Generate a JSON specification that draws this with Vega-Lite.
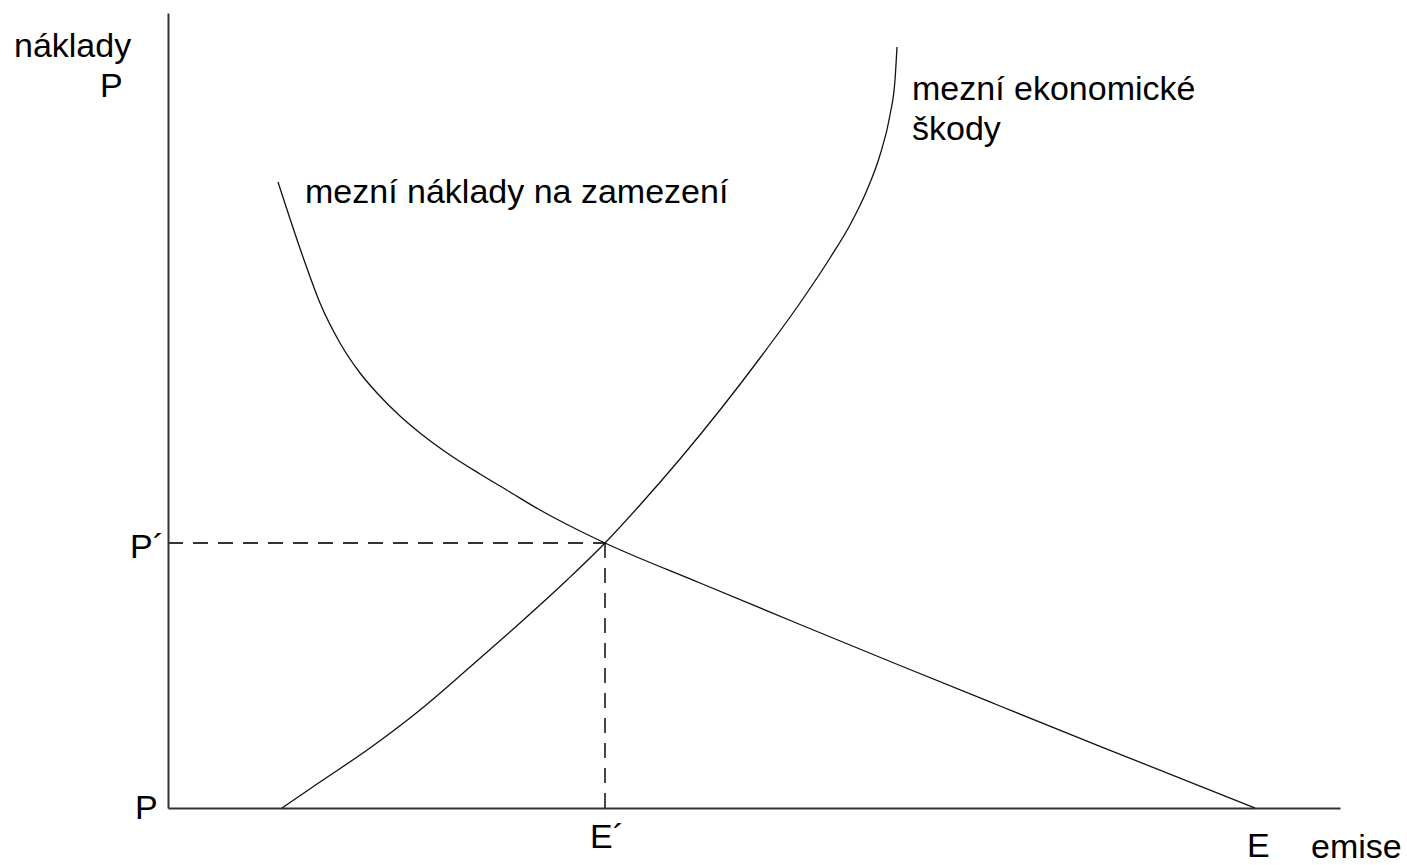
{
  "$schema": "https://vega.github.io/schema/vega-lite/v6.json",
  "width": 1172,
  "height": 795,
  "autosize": {"type": "none"},
  "padding": {"left": 168, "top": 13, "right": 67, "bottom": 57},
  "background": "white",
  "config": {"view": {"stroke": null}},
  "datasets": {
    "curves": [
      {"curve": "MAC", "x": 11.0, "y": 62.6},
      {"curve": "MAC", "x": 13.5, "y": 55.1},
      {"curve": "MAC", "x": 15.2, "y": 50.5},
      {"curve": "MAC", "x": 17.2, "y": 46.5},
      {"curve": "MAC", "x": 19.2, "y": 43.5},
      {"curve": "MAC", "x": 20.9, "y": 41.5},
      {"curve": "MAC", "x": 23.2, "y": 39.2},
      {"curve": "MAC", "x": 25.2, "y": 37.5},
      {"curve": "MAC", "x": 28.2, "y": 35.3},
      {"curve": "MAC", "x": 31.2, "y": 33.4},
      {"curve": "MAC", "x": 34.2, "y": 31.6},
      {"curve": "MAC", "x": 37.2, "y": 29.8},
      {"curve": "MAC", "x": 40.7, "y": 27.95},
      {"curve": "MAC", "x": 43.7, "y": 26.5},
      {"curve": "MAC", "x": 53.2, "y": 22.5},
      {"curve": "MAC", "x": 63.2, "y": 18.35},
      {"curve": "MAC", "x": 73.2, "y": 14.25},
      {"curve": "MAC", "x": 83.2, "y": 10.2},
      {"curve": "MAC", "x": 93.2, "y": 6.17},
      {"curve": "MAC", "x": 108.7, "y": 0.0},
      {"curve": "MED", "x": 11.4, "y": 0.0},
      {"curve": "MED", "x": 15.2, "y": 2.6},
      {"curve": "MED", "x": 20.2, "y": 6.0},
      {"curve": "MED", "x": 25.2, "y": 9.8},
      {"curve": "MED", "x": 30.2, "y": 14.1},
      {"curve": "MED", "x": 35.2, "y": 18.5},
      {"curve": "MED", "x": 39.9, "y": 22.8},
      {"curve": "MED", "x": 43.7, "y": 26.5},
      {"curve": "MED", "x": 47.2, "y": 30.3},
      {"curve": "MED", "x": 51.2, "y": 34.9},
      {"curve": "MED", "x": 55.2, "y": 39.8},
      {"curve": "MED", "x": 59.2, "y": 45.0},
      {"curve": "MED", "x": 63.2, "y": 50.5},
      {"curve": "MED", "x": 66.2, "y": 55.0},
      {"curve": "MED", "x": 68.2, "y": 58.3},
      {"curve": "MED", "x": 69.9, "y": 61.8},
      {"curve": "MED", "x": 71.2, "y": 65.3},
      {"curve": "MED", "x": 72.2, "y": 69.3},
      {"curve": "MED", "x": 72.7, "y": 72.8},
      {"curve": "MED", "x": 72.9, "y": 76.1}
    ],
    "dashes": [
      {"x": 0, "x2": 43.7, "y": 26.5, "y2": 26.5},
      {"x": 43.7, "x2": 43.7, "y": 0, "y2": 26.5}
    ],
    "labels": [
      {"x": -15.4, "y": 75.1, "text": "náklady"},
      {"x": -6.8, "y": 71.1, "text": "P"},
      {"x": -3.8, "y": 25.0, "text": "P´"},
      {"x": -3.3, "y": -1.1, "text": "P"},
      {"x": 42.2, "y": -4.0, "text": "E´"},
      {"x": 107.9, "y": -4.9, "text": "E"},
      {"x": 114.3, "y": -5.0, "text": "emise"},
      {"x": 74.4, "y": 70.8, "text": "mezní ekonomické"},
      {"x": 74.4, "y": 66.8, "text": "škody"},
      {"x": 13.7, "y": 60.5, "text": "mezní náklady na zamezení"}
    ]
  },
  "encoding": {
    "x": {
      "field": "x",
      "type": "quantitative",
      "scale": {"domain": [0, 117.2], "nice": false, "zero": false},
      "axis": {"domain": true, "domainColor": "#333333", "domainWidth": 2, "ticks": false, "labels": false, "grid": false, "title": null}
    },
    "y": {
      "field": "y",
      "type": "quantitative",
      "scale": {"domain": [0, 79.5], "nice": false, "zero": false},
      "axis": {"domain": true, "domainColor": "#333333", "domainWidth": 2, "ticks": false, "labels": false, "grid": false, "title": null}
    }
  },
  "layer": [
    {
      "data": {"name": "dashes"},
      "mark": {"type": "rule", "color": "#333333", "strokeWidth": 1.8, "strokeDash": [15, 10]},
      "encoding": {
        "x2": {"field": "x2"},
        "y2": {"field": "y2"}
      }
    },
    {
      "data": {"name": "curves"},
      "mark": {"type": "line", "color": "#111111", "strokeWidth": 1.3, "interpolate": "monotone"},
      "encoding": {
        "detail": {"field": "curve", "type": "nominal"}
      }
    },
    {
      "data": {"name": "labels"},
      "mark": {"type": "text", "align": "left", "baseline": "alphabetic", "font": "Liberation Sans", "fontSize": 34, "color": "#000000"},
      "encoding": {
        "text": {"field": "text", "type": "nominal"}
      }
    }
  ]
}
